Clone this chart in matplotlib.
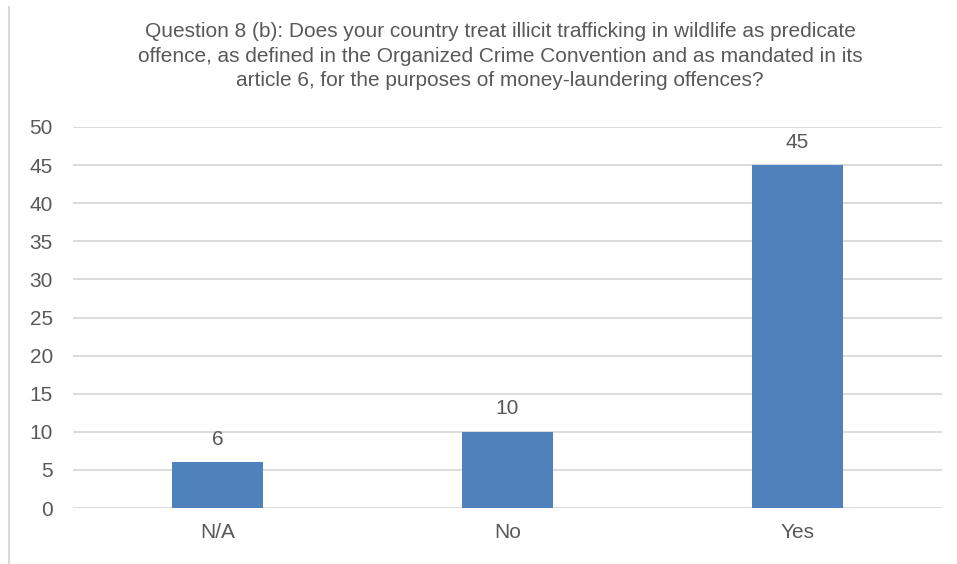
import matplotlib

matplotlib.use("Agg")
import matplotlib.pyplot as plt
from matplotlib.lines import Line2D

plt.rcParams["font.family"] = ["Liberation Sans", "DejaVu Sans"]

TEXT = "#595959"
GRID = "#d9d9d9"
BAR = "#4f81bd"

categories = ["N/A", "No", "Yes"]
counts = [6, 10, 45]
y_ticks = [0, 5, 10, 15, 20, 25, 30, 35, 40, 45, 50]
title = (
    "Question 8 (b): Does your country treat illicit trafficking in wildlife as predicate\n"
    "offence, as defined in the Organized Crime Convention and as mandated in its\n"
    "article 6, for the purposes of money-laundering offences?"
)

fig = plt.figure(figsize=(9.57, 5.64), dpi=100)
ax = fig.add_axes([73 / 957, 1 - 508 / 564, (942 - 73) / 957, (508 - 127) / 564])

xs = list(range(len(categories)))
bars = ax.bar(xs, counts, width=0.314, color=BAR, zorder=3)
for rect, value in zip(bars, counts):
    ax.annotate(
        str(value),
        (rect.get_x() + rect.get_width() / 2, value),
        xytext=(0, 16.5),
        textcoords="offset points",
        ha="center",
        va="center",
        fontsize=15,
        color=TEXT,
    )

ax.set_xlim(-0.5, len(categories) - 0.5)
ax.set_ylim(0, 50)
ax.set_yticks(y_ticks)
ax.set_xticks(xs)
ax.set_xticklabels(categories)
ax.tick_params(axis="both", length=0, labelsize=15, labelcolor=TEXT)
ax.tick_params(axis="y", pad=14.5)
ax.tick_params(axis="x", pad=11)
ax.grid(axis="y", color=GRID, linewidth=1.3, zorder=0)
ax.set_axisbelow(True)
for spine in ax.spines.values():
    spine.set_visible(False)

fig.text(500 / 957, 1 - 56 / 564, title, ha="center", va="center", fontsize=15,
         color=TEXT, linespacing=1.36, multialignment="center")

# thin frame edge on the left side of the chart area
fig.add_artist(Line2D([9 / 957, 9 / 957], [0, 1 - 7 / 564], color=GRID,
                      linewidth=1.5, transform=fig.transFigure))

fig.savefig("out.png", dpi=100)
